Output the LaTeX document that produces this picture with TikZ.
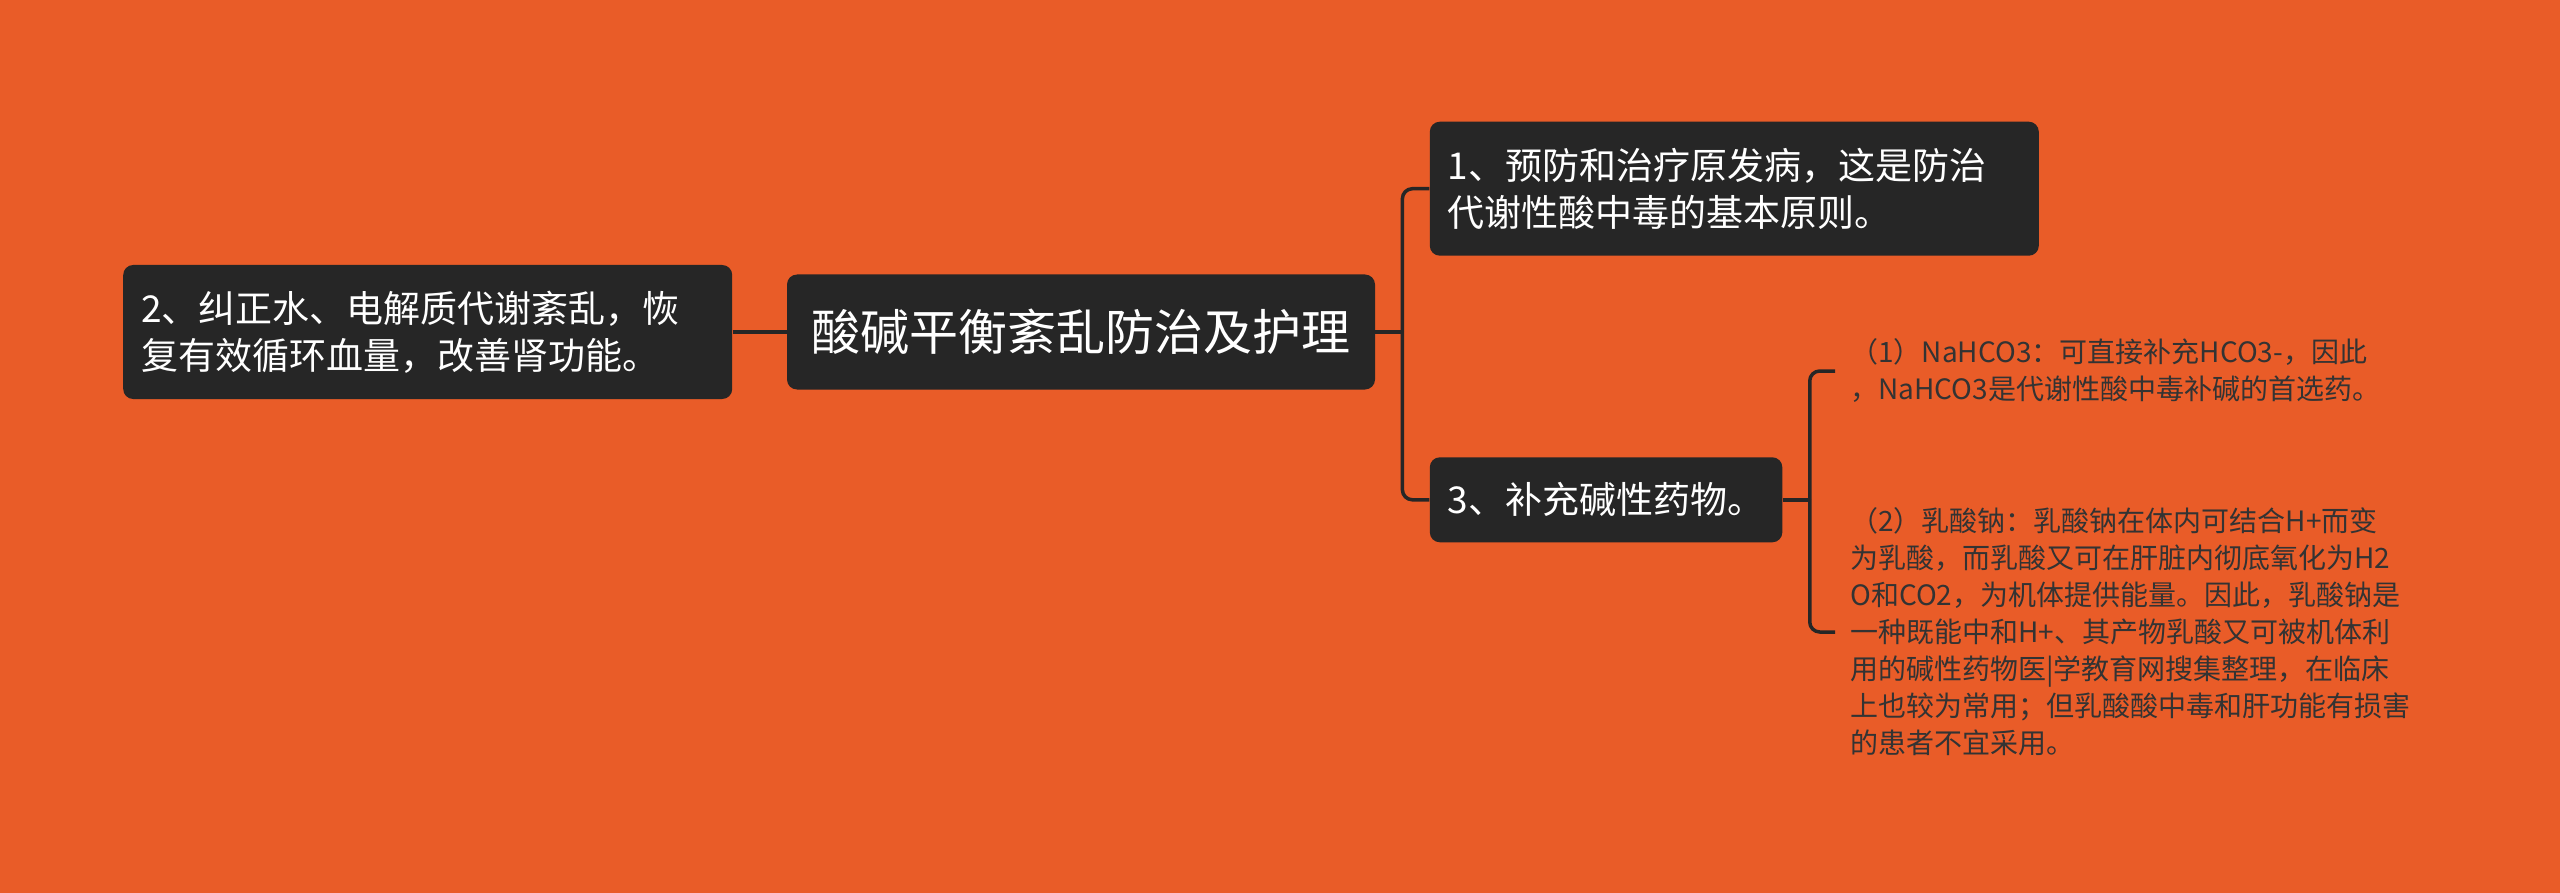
\documentclass[tikz,border=0pt]{standalone}
\usepackage{fontspec}
\usepackage{xcolor}
\usepackage{tikz}
\usetikzlibrary{positioning}
\newfontfamily\cjk{Noto Sans CJK SC}
\definecolor{bgorange}{HTML}{E95C28}
\definecolor{boxdark}{HTML}{262626}
\definecolor{leaftext}{HTML}{333333}

\begin{document}
\begin{tikzpicture}[x=0.5pt, y=-0.5pt,
  topic/.style={fill=boxdark, text=white, rounded corners=5pt, inner xsep=9pt},
  subtopic/.style={topic, text width=286.5pt, minimum height=67pt, align=left,
    font=\cjk\fontsize{18.5}{23.5}\selectfont},
  leaf/.style={text=leaftext, align=left, inner xsep=7.5pt, inner ysep=0pt,
    font=\cjk\fontsize{14}{18.5}\selectfont},
  link/.style={draw=boxdark, line width=1.75pt},
  elbow/.style={link, rounded corners=5pt}]
% background
\fill[bgorange] (0,0) rectangle (2560,893);
% main topic
\node[topic, minimum width=294pt, minimum height=57.5pt, font=\cjk\fontsize{24.5}{30}\selectfont] (root) at (1081,332) {酸碱平衡紊乱防治及护理};
% left branch
\node (repair) [subtopic, left=27pt of root] {2、纠正水、电解质代谢紊乱，恢\\复有效循环血量，改善肾功能。};
% right branches
\node (prevent) [subtopic, above right=9pt and 27pt of root] {1、预防和治疗原发病，这是防治\\代谢性酸中毒的基本原则。};
\node (alkali) [topic, below right=33.5pt and 27pt of root, minimum width=176pt, minimum height=42.5pt, font=\cjk\fontsize{18.5}{23.5}\selectfont] {3、补充碱性药物。};
% leaves
\node (nahco) [leaf, anchor=west] at (1835,371) {（1）NaHCO3：可直接补充HCO3-，因此\\，NaHCO3是代谢性酸中毒补碱的首选药。};
\node (lactate) [leaf, anchor=west] at (1835,632) {（2）乳酸钠：乳酸钠在体内可结合H+而变\\为乳酸，而乳酸又可在肝脏内彻底氧化为H2\\O和CO2，为机体提供能量。因此，乳酸钠是\\一种既能中和H+、其产物乳酸又可被机体利\\用的碱性药物医|学教育网搜集整理，在临床\\上也较为常用；但乳酸酸中毒和肝功能有损害\\的患者不宜采用。};
% connectors
\draw [link] (repair) -- (root);
\draw [link] (root.east) -- ++(13.5pt,0) coordinate (fork);
\draw [elbow] (fork) |- (prevent.west);
\draw [elbow] (fork) |- (alkali.west);
\draw [link] (alkali.east) -- ++(13.5pt,0) coordinate (twig);
\draw [elbow] (twig) |- (nahco.west);
\draw [elbow] (twig) |- (lactate.west);
\end{tikzpicture}
\end{document}
